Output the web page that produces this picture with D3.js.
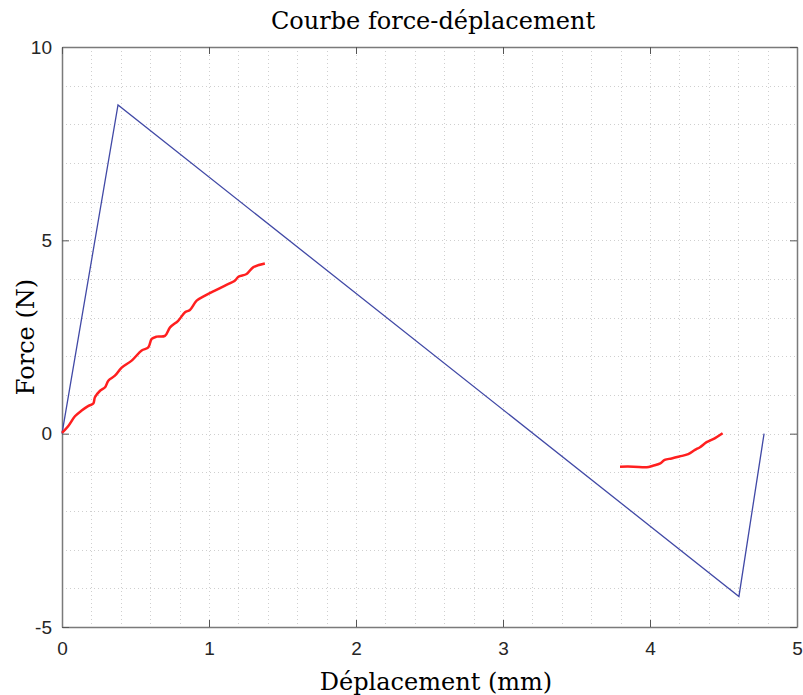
<!DOCTYPE html>
<html>
<head>
<meta charset="utf-8">
<script src="https://cdn.jsdelivr.net/npm/d3@7"></script>
<style>
  body { margin: 0; background: #fff; }
  svg { display: block; }
</style>
</head>
<body>
<svg width="803" height="695"></svg>
<script>
// modele (ligne bleue)
var modelX = [0, 0.381, 4.605, 4.776];
var modelY = [0, 8.5, -4.21, 0];

// essai, chargement
var loadX = [0, 0.043, 0.088, 0.134, 0.18, 0.213, 0.224, 0.259, 0.293, 0.315, 0.36, 0.406, 0.474, 0.542, 0.587, 0.61, 0.644, 0.70, 0.735, 0.79, 0.837, 0.87, 0.916, 0.973, 1.04, 1.109, 1.177, 1.2, 1.256, 1.30, 1.38];
var loadY = [0.02, 0.2, 0.45, 0.6, 0.72, 0.78, 0.94, 1.11, 1.2, 1.37, 1.5, 1.71, 1.89, 2.15, 2.23, 2.45, 2.51, 2.53, 2.75, 2.92, 3.14, 3.2, 3.44, 3.57, 3.70, 3.83, 3.96, 4.06, 4.13, 4.30, 4.40];

// essai, fin
var endX = [3.796, 3.887, 3.977, 4.02, 4.07, 4.10, 4.147, 4.20, 4.26, 4.306, 4.34, 4.385, 4.44, 4.494];
var endY = [-0.853, -0.853, -0.87, -0.83, -0.77, -0.68, -0.64, -0.59, -0.53, -0.42, -0.35, -0.22, -0.12, 0.01];

var xTicks = [0, 1, 2, 3, 4, 5];
var yTicks = [-5, 0, 5, 10];

var svg = d3.select("svg");
var mLeft = 62, mRight = 797, mTop = 47, mBottom = 627;

var x = d3.scaleLinear().domain([0, 5]).range([mLeft, mRight]);
var y = d3.scaleLinear().domain([-5, 10]).range([mBottom, mTop]);

// grille pointillee
var grid = svg.append("g")
    .attr("stroke", "#cfcfcf")
    .attr("stroke-width", 1)
    .attr("stroke-dasharray", "1,3");

grid.selectAll("line.gx")
    .data(d3.range(1, 25).map(function(i) { return i * 0.2; }))
    .enter().append("line")
    .attr("x1", function(d) { return Math.round(x(d)) + 0.5; })
    .attr("x2", function(d) { return Math.round(x(d)) + 0.5; })
    .attr("y1", mTop).attr("y2", mBottom);

grid.selectAll("line.gy")
    .data(d3.range(-4, 10))
    .enter().append("line")
    .attr("y1", function(d) { return Math.round(y(d)) + 0.5; })
    .attr("y2", function(d) { return Math.round(y(d)) + 0.5; })
    .attr("x1", mLeft).attr("x2", mRight);

// axes
var fmt = function(d) { return d < 0 ? "-" + Math.abs(d) : String(d); };
var xAxis = svg.append("g")
    .attr("transform", "translate(0," + mBottom + ")")
    .call(d3.axisBottom(x).tickValues(xTicks).tickSizeInner(-7).tickSizeOuter(0).tickPadding(15).tickFormat(fmt));
var yAxis = svg.append("g")
    .attr("transform", "translate(" + mLeft + ",0)")
    .call(d3.axisLeft(y).tickValues(yTicks).tickSizeInner(-7).tickSizeOuter(0).tickPadding(10).tickFormat(fmt));
var xTop = svg.append("g")
    .attr("transform", "translate(0," + mTop + ")")
    .call(d3.axisTop(x).tickValues(xTicks).tickSizeInner(-7).tickSizeOuter(0).tickFormat(""));
var yRight = svg.append("g")
    .attr("transform", "translate(" + mRight + ",0)")
    .call(d3.axisRight(y).tickValues(yTicks).tickSizeInner(-7).tickSizeOuter(0).tickFormat(""));

[xAxis, yAxis, xTop, yRight].forEach(function(a) {
  a.select(".domain").attr("stroke", "#7a7a7a").attr("stroke-width", 1.5);
  a.selectAll(".tick line").attr("stroke", "#555").attr("stroke-width", 1);
  a.selectAll(".tick text")
    .attr("fill", "#262626")
    .style("font-family", "'Liberation Sans', Arial, sans-serif")
    .style("font-size", "19px");
});

// courbes
var line = d3.line()
    .x(function(d) { return x(d[0]); })
    .y(function(d) { return y(d[1]); });

svg.append("path")
    .attr("d", line(d3.zip(modelX, modelY)))
    .attr("fill", "none")
    .attr("stroke", "#4149a6")
    .attr("stroke-width", 1.3);

svg.append("path")
    .attr("d", line.curve(d3.curveCatmullRom)(d3.zip(loadX, loadY)))
    .attr("fill", "none")
    .attr("stroke", "#ff1f1f")
    .attr("stroke-width", 2.5)
    .attr("stroke-linejoin", "round");

svg.append("path")
    .attr("d", line.curve(d3.curveCatmullRom)(d3.zip(endX, endY)))
    .attr("fill", "none")
    .attr("stroke", "#ff1f1f")
    .attr("stroke-width", 2.5)
    .attr("stroke-linejoin", "round");

// textes
var serif = "'DejaVu Serif', 'Liberation Serif', serif";
svg.append("text")
    .attr("x", 433).attr("y", 29)
    .attr("text-anchor", "middle")
    .style("font-family", serif).style("font-size", "24px")
    .text("Courbe force-déplacement");

svg.append("text")
    .attr("x", 436).attr("y", 690)
    .attr("text-anchor", "middle")
    .style("font-family", serif).style("font-size", "24px")
    .text("Déplacement (mm)");

svg.append("text")
    .attr("transform", "translate(34,337) rotate(-90)")
    .attr("text-anchor", "middle")
    .style("font-family", serif).style("font-size", "24px")
    .text("Force (N)");
</script>
</body>
</html>
